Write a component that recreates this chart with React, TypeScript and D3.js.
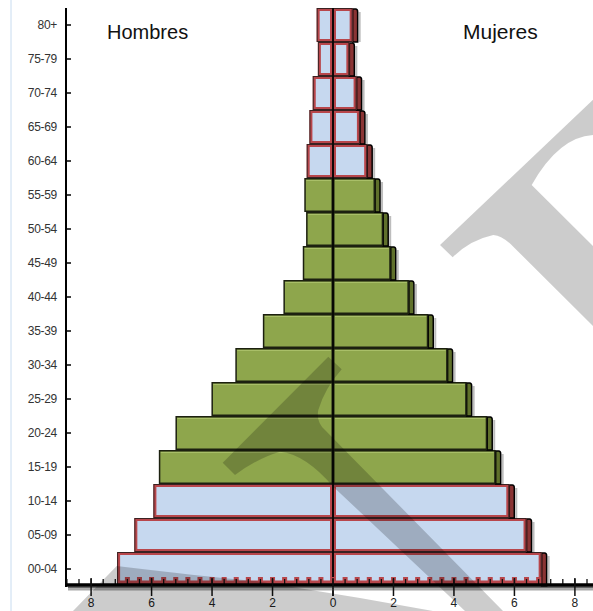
import * as d3 from "d3";

// grupos de edad, de abajo (00-04) hacia arriba (80+)
const ageGroups = [
  "00-04", "05-09", "10-14", "15-19", "20-24", "25-29", "30-34", "35-39",
  "40-44", "45-49", "50-54", "55-59", "60-64", "65-69", "70-74", "75-79", "80+",
];
const maleValues = [7.14, 6.57, 5.94, 5.76, 5.21, 4.02, 3.23, 2.32, 1.64, 1.0, 0.89, 0.95, 0.87, 0.78, 0.67, 0.5, 0.54];
const femaleValues = [6.9, 6.4, 5.83, 5.38, 5.1, 4.42, 3.79, 3.15, 2.51, 1.91, 1.66, 1.39, 1.13, 0.89, 0.78, 0.54, 0.65];
// grupos dependientes (niños y mayores) en azul
const dependentGroups = ["00-04", "05-09", "10-14", "60-64", "65-69", "70-74", "75-79", "80+"];
const majorTicks = [-8, -6, -4, -2, 0, 2, 4, 6, 8];

const SIZE = { width: 593, height: 611 };
const PLOT = { left: 66, right: 600, top: 8, bottom: 586 };
const COLORS = {
  blue: "#c6d8ef",
  red: "#b8464b",
  redDepth: "#8a3434",
  green: "#8ea64c",
  greenDepth: "#5f702b",
  greenLight: "#a9bf68",
  outline: "#1c2010",
};
const DEPTH = 5;

export default function App() {
  const x = d3.scaleLinear().domain([-8.83, 8.83]).range([PLOT.left, PLOT.right]);
  const y = d3
    .scaleBand<string>()
    .domain([...ageGroups].reverse())
    .range([PLOT.top, PLOT.bottom])
    .padding(0);
  const x0 = x(0);
  const bh = y.bandwidth();

  const minorTicks = d3.range(-22, 23).map((k) => k * 0.4);
  const barMin = x(-maleValues[0]);
  const barMax = x(femaleValues[0]);

  const bars = ageGroups.map((g, i) => {
    const top = y(g)!;
    const blue = dependentGroups.includes(g);
    const mx = x(-maleValues[i]);
    const fx = x(femaleValues[i]);
    const depthColor = blue ? COLORS.redDepth : COLORS.greenDepth;
    const depthPath = `M${fx},${top + 1} L${fx + DEPTH - 2},${top + 1} Q${fx + DEPTH},${top + 1} ${fx + DEPTH},${top + 4} L${fx + DEPTH},${top + bh} L${fx},${top + bh} Z`;
    const segs = [
      { x: mx, w: x0 - mx },
      { x: x0, w: fx - x0 },
    ];
    return (
      <g key={g}>
        <rect x={fx + DEPTH + 1} y={top + 4} width={2} height={bh - 4} fill="#bdbdbd" />
        <path d={depthPath} fill={depthColor} stroke="#000" strokeWidth={1.5} />
        {segs.map((s, j) =>
          blue ? (
            <g key={j}>
              <rect x={s.x + 1.5} y={top + 1.5} width={s.w - 3} height={bh - 3} fill={COLORS.blue} stroke={COLORS.red} strokeWidth={3} />
              <rect x={s.x + 0.5} y={top + 0.5} width={s.w - 1} height={bh - 1} fill="none" stroke="#3a2222" strokeWidth={1} />
            </g>
          ) : (
            <g key={j}>
              <rect x={s.x + 0.75} y={top + 0.75} width={s.w - 1.5} height={bh - 1.5} fill={COLORS.green} stroke={COLORS.outline} strokeWidth={1.5} />
              <line x1={s.x + 2} x2={s.x + s.w - 2} y1={top + 2.5} y2={top + 2.5} stroke={COLORS.greenLight} strokeWidth={1} />
            </g>
          ),
        )}
      </g>
    );
  });

  return (
    <svg
      width={SIZE.width}
      height={SIZE.height}
      style={{ position: "absolute", left: 0, top: 0, background: "#fff" }}
      fontFamily="'Liberation Sans', Arial, sans-serif"
    >
      <line x1={11} x2={11} y1={0} y2={SIZE.height} stroke="#c8dcf0" strokeWidth={1} />

      {bars}

      {/* borde inferior rojo de la barra 00-04, visible sobre el eje */}
      <line x1={barMin + 1} x2={barMax - 1} y1={582} y2={582} stroke={COLORS.red} strokeWidth={3} />

      {/* línea central */}
      <line x1={x0} x2={x0} y1={PLOT.top} y2={596} stroke="#000" strokeWidth={1.5} />

      {/* eje Y */}
      <line x1={PLOT.left} x2={PLOT.left} y1={PLOT.top} y2={PLOT.bottom + 1} stroke="#000" strokeWidth={2} />
      {ageGroups.map((g) => {
        const cy = y(g)! + bh / 2;
        return (
          <g key={g}>
            <line x1={PLOT.left} x2={PLOT.left + 5} y1={cy} y2={cy} stroke="#000" strokeWidth={1.5} />
            <text x={57} y={cy} dy="0.35em" textAnchor="end" fontSize={12} fill="#333" letterSpacing={-0.3}>
              {g}
            </text>
          </g>
        );
      })}

      {/* eje X */}
      {minorTicks.map((v) => {
        const tx = x(v);
        const inBar = tx > barMin + 2 && tx < barMax - 2;
        return (
          <g key={v.toFixed(1)}>
            {inBar && <rect x={tx - 2.5} y={577} width={5} height={7} fill={COLORS.red} />}
            <line x1={tx} x2={tx} y1={579} y2={585} stroke="#111" strokeWidth={1.3} />
          </g>
        );
      })}
      <rect x={68} y={586.5} width={SIZE.width - 68} height={2} fill="#666" />
      <rect x={68} y={588.5} width={SIZE.width - 68} height={2} fill="#aaa" />
      <line x1={PLOT.left - 1} x2={SIZE.width} y1={585} y2={585} stroke="#000" strokeWidth={3.3} />
      {majorTicks.map((v) => (
        <g key={v}>
          <line x1={x(v)} x2={x(v)} y1={578} y2={596} stroke="#111" strokeWidth={1.5} />
          <text x={x(v)} y={607} textAnchor="middle" fontSize={12} fill="#222">
            {Math.abs(v)}
          </text>
        </g>
      ))}

      <text x={107} y={39} fontSize={20} fill="#111">Hombres</text>
      <text x={463} y={39} fontSize={21} fill="#111">Mujeres</text>

      {/* marca de agua */}
      <g fill="#000" fillOpacity={0.2}>
        <path d="M440,245 L596,97 L596,135 Q560,135 531.7,185 L596,249 L596,329 L513.3,246.7 Q503,236 493.3,235 Q470,240 452.7,257.3 Z" />
        <path d="M222.7,462.7 L328.3,356.7 L341.7,369.3 Q325,388 318.3,410 Q316,422 325,430 L503,611 L465,611 L333.3,486.7 Q305,454 280,451.7 Q258,458 235,475 Z" />
        <path d="M73,611 L116.7,566 Q200,576 260,581.7 L360,598 L433,611 Z" />
      </g>
    </svg>
  );
}
